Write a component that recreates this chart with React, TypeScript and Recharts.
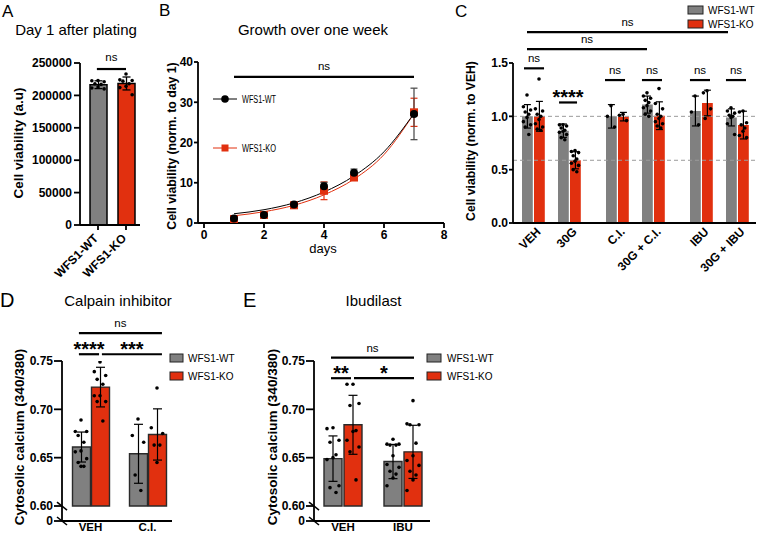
import {
  ComposedChart,
  Bar,
  Cell,
  ErrorBar,
  Scatter,
  Line,
  XAxis,
  YAxis,
  ReferenceLine,
} from "recharts"

const FONT = "'Liberation Sans', Arial, Helvetica, sans-serif"
const GRAY = "#808080"
const RED = "#e1300f"
const W = 757
const H = 535

// ---- A: day 1 after plating
const A_GROUPS = ["WFS1-WT", "WFS1-KO"]
const A_MEAN = [216500, 218400]
const A_SD = [6000, 10000]
const A_WT_DOTS = [223000, 222500, 221000, 218000, 217000, 213000, 211500, 210000]
const A_KO_DOTS = [233000, 224000, 223000, 222000, 218000, 214000, 212000, 201000]
const A_TICKS = [0, 50000, 100000, 150000, 200000, 250000]

// ---- B: growth over one week
const B_DAYS = [1, 2, 3, 4, 5, 7]
const B_WT = [1.1, 2.0, 4.6, 9.1, 12.5, 27.1]
const B_WT_ERR = [0.3, 0.3, 0.4, 1.0, 0.9, 6.4]
const B_KO = [1.0, 2.0, 4.4, 8.0, 11.3, 27.5]
const B_KO_ERR = [0.3, 0.3, 0.4, 2.2, 0.5, 3.5]
const FIT_DAYS = [1, 2, 3, 4, 5, 6, 7]
const B_WT_FIT = [2.3, 3.3, 5.0, 7.7, 11.7, 17.7, 27.2]
const B_KO_FIT = [1.8, 2.8, 4.4, 7.0, 10.9, 17.0, 27.2]
const B_XTICKS = [0, 2, 4, 6, 8]
const B_YTICKS = [0, 10, 20, 30, 40]

// ---- C: viability, normalised to VEH
const C_GROUPS = ["VEH", "30G", "C.I.", "30G + C.I.", "IBU", "30G + IBU"]
const C_WT_MEAN = [1.0, 0.865, 1.0, 1.11, 1.05, 0.99]
const C_KO_MEAN = [1.0, 0.588, 0.997, 1.006, 1.125, 0.918]
const C_WT_SD = [0.11, 0.063, 0.11, 0.08, 0.14, 0.08]
const C_KO_SD = [0.14, 0.08, 0.04, 0.13, 0.12, 0.13]
const C_WT_DOTS = [
  [1.2, 1.09, 1.06, 1.04, 1.02, 0.99, 0.95, 0.92, 0.9, 0.83],
  [0.92, 0.92, 0.91, 0.89, 0.87, 0.86, 0.85, 0.83, 0.8, 0.78],
  [1.1, 1.0, 0.9],
  [1.22, 1.19, 1.17, 1.15, 1.13, 1.1, 1.08, 1.05, 1.02, 1.0],
  [1.19, 1.04, 0.92],
  [1.08, 1.05, 1.03, 1.01, 1.0, 0.99, 0.93, 0.83],
]
const C_KO_DOTS = [
  [1.35, 1.07, 1.05, 1.02, 1.0, 0.97, 0.93, 0.9, 0.88, 0.87],
  [0.68, 0.67, 0.66, 0.63, 0.6, 0.58, 0.56, 0.54, 0.5, 0.48],
  [1.02, 1.01, 0.96],
  [1.26, 1.12, 1.07, 1.02, 1.0, 0.98, 0.95, 0.93, 0.91, 0.89],
  [1.24, 1.22, 1.07, 0.98],
  [1.05, 1.04, 0.94, 0.92, 0.89, 0.86, 0.82, 0.8],
]
const C_TICKS = [0, 0.5, 1, 1.5]

// ---- D: calpain inhibitor
const D_GROUPS = ["VEH", "C.I."]
const D_WT_MEAN = [0.661, 0.654]
const D_KO_MEAN = [0.723, 0.674]
const D_WT_SD = [0.0155, 0.0305]
const D_KO_SD = [0.0205, 0.0265]
const D_WT_DOTS = [
  [0.689, 0.677, 0.677, 0.673, 0.666, 0.657, 0.656, 0.649, 0.645, 0.641, 0.641],
  [0.69, 0.673, 0.666, 0.632, 0.616],
]
const D_KO_DOTS = [
  [0.749, 0.739, 0.735, 0.731, 0.726, 0.714, 0.714, 0.708, 0.708, 0.688],
  [0.722, 0.681, 0.675, 0.663, 0.663, 0.645],
]

// ---- E: ibudilast
const E_GROUPS = ["VEH", "IBU"]
const E_WT_MEAN = [0.649, 0.646]
const E_KO_MEAN = [0.684, 0.656]
const E_WT_SD = [0.0235, 0.0177]
const E_KO_SD = [0.0305, 0.0275]
const E_WT_DOTS = [
  [0.681, 0.68, 0.668, 0.666, 0.653, 0.65, 0.648, 0.621, 0.619, 0.614],
  [0.669, 0.664, 0.664, 0.663, 0.663, 0.652, 0.643, 0.64, 0.636, 0.633, 0.629, 0.621],
]
const E_KO_DOTS = [
  [0.726, 0.726, 0.706, 0.704, 0.678, 0.677, 0.668, 0.661, 0.656, 0.627],
  [0.709, 0.685, 0.684, 0.684, 0.665, 0.652, 0.647, 0.642, 0.636, 0.632, 0.627, 0.616],
]
const CA_TICKS = [0.6, 0.65, 0.7, 0.75]

// layout: slot index of each WT bar (KO sits in the next slot)
const C_SLOTS = [0, 3, 7, 10, 14, 17]
const C_NSLOT = 19
const DE_SLOTS = [0, 3]
const DE_NSLOT = 5
// broken y axis in D/E: 0.60 sits 15px above the zero line
const BREAK = 0.6
const ZERO = 0.6 - 15 / 966.7

// significance brackets (x in slot units, y in data units)
const A_BRACKETS = [{ x1: 0.46, x2: 1.5, y: 240700, text: "ns" }]
const B_BRACKETS = [{ x1: 1, x2: 7, y: 36.3, text: "ns" }]
const C_BRACKETS = [
  { x1: 0.5, x2: 17.25, y: 1.79, text: "ns" },
  { x1: 0.5, x2: 10.5, y: 1.63, text: "ns" },
  { x1: 0.25, x2: 1.92, y: 1.45, text: "ns" },
  { x1: 3.17, x2: 4.67, y: 1.13, text: "****" },
  { x1: 7.0, x2: 8.67, y: 1.34, text: "ns" },
  { x1: 10.08, x2: 11.75, y: 1.34, text: "ns" },
  { x1: 14.08, x2: 15.75, y: 1.34, text: "ns" },
  { x1: 17.08, x2: 18.75, y: 1.34, text: "ns" },
]
const D_BRACKETS = [
  { x1: 0.39, x2: 4.76, y: 0.7788, text: "ns" },
  { x1: 0.39, x2: 1.45, y: 0.757, text: "****" },
  { x1: 1.6, x2: 4.76, y: 0.757, text: "***" },
]
const E_BRACKETS = [
  { x1: 0.4, x2: 4.55, y: 0.7535, text: "ns" },
  { x1: 0.4, x2: 1.4, y: 0.7322, text: "**" },
  { x1: 1.55, x2: 4.55, y: 0.7322, text: "*" },
]

const axisStroke = { stroke: "#000", strokeWidth: 1.8 }
const tickFont = { fontSize: 12, fontWeight: 700, fill: "#000", fontFamily: FONT }

const JIT = [0, -1, 1, -0.5, 0.5]
function spread(vals: number[], center: number, half: number) {
  return vals.map((v, i) => ({ x: center + JIT[i % JIT.length] * half, y: v }))
}

function buildRows(
  nSlot: number,
  slots: number[],
  wtMean: number[],
  koMean: number[],
  wtSd: number[],
  koSd: number[],
  base?: number
) {
  const rows: any[] = Array.from({ length: nSlot }, (_, i) => ({ slot: "s" + i }))
  slots.forEach((s, g) => {
    rows[s] = { slot: "s" + s, y: base == null ? wtMean[g] : [base, wtMean[g]], sd: wtSd[g], fill: GRAY }
    rows[s + 1] = { slot: "s" + (s + 1), y: base == null ? koMean[g] : [base, koMean[g]], sd: koSd[g], fill: RED }
  })
  return rows
}

function buildDots(slots: number[], wt: number[][], ko: number[][], half: number) {
  return slots.flatMap((s, g) => [...spread(wt[g], s + 0.5, half), ...spread(ko[g], s + 1.5, half)])
}

const Dot = (p: any) => <circle cx={p.cx} cy={p.cy} r={1.8} fill="#000" />

function brackets(list: { x1: number; x2: number; y: number; text: string }[], axisId: any, nsOffset = 6.5) {
  return list.map((b, i) => {
    const star = b.text.includes("*")
    return (
      <ReferenceLine
        key={"br" + i}
        xAxisId={axisId}
        ifOverflow="visible"
        stroke="#000"
        strokeWidth={2.2}
        segment={[
          { x: b.x1, y: b.y },
          { x: b.x2, y: b.y },
        ]}
        label={{
          value: b.text,
          position: "top",
          offset: star ? -1.5 : nsOffset,
          fill: "#000",
          fontFamily: FONT,
          fontSize: star ? 20 : 11.5,
          fontWeight: star ? 700 : 400,
        }}
      />
    )
  })
}

function RotTick({ x, y, dx, dy, label }: any) {
  const px = x + dx
  const py = y + dy
  return (
    <text
      x={px}
      y={py}
      transform={`rotate(-45 ${px} ${py})`}
      textAnchor="end"
      fontSize={12}
      fontWeight={700}
      fontFamily={FONT}
      fill="#000"
    >
      {label}
    </text>
  )
}

function BreakTick({ x, y, payload }: any) {
  const v = payload.value
  const isZero = v < BREAK - 1e-6
  const isBreak = isZero || Math.abs(v - BREAK) < 1e-6
  const ax = x + 9
  return (
    <g>
      <text x={x} y={y} dy="0.35em" textAnchor="end" {...tickFont}>
        {isZero ? "0" : v.toFixed(2)}
      </text>
      {isBreak && <line x1={ax - 5} y1={y - 4} x2={ax + 5} y2={y + 4} stroke="#000" strokeWidth={1.6} />}
    </g>
  )
}

function PanelA() {
  const rows = A_GROUPS.map((g, i) => ({ slot: g, y: A_MEAN[i], sd: A_SD[i], fill: i ? RED : GRAY }))
  const dots = [...spread(A_WT_DOTS, 0.5, 0.22), ...spread(A_KO_DOTS, 1.5, 0.22)]
  return (
    <ComposedChart width={W} height={H} data={rows} margin={{ top: 63, left: 20, right: 617, bottom: 270 }}>
      <XAxis
        xAxisId="cat"
        dataKey="slot"
        type="category"
        height={40}
        padding={{ left: 4, right: 0 }}
        axisLine={axisStroke}
        tickLine={axisStroke}
        tickSize={5}
        tickMargin={2}
        interval={0}
        tick={(p: any) => <RotTick x={p.x} y={p.y} dx={1} dy={7} label={p.payload.value} />}
      />
      <XAxis
        xAxisId="num"
        dataKey="x"
        type="number"
        domain={[0, 2]}
        hide
        height={0}
        padding={{ left: 4, right: 0 }}
        allowDataOverflow
      />
      <YAxis
        width={60}
        domain={[0, 250000]}
        ticks={A_TICKS}
        interval={0}
        allowDataOverflow
        axisLine={axisStroke}
        tickLine={axisStroke}
        tickSize={6}
        tickMargin={2}
        tick={tickFont}
      />
      <Bar xAxisId="cat" dataKey="y" barSize={17} stroke="#000" strokeWidth={1.5} isAnimationActive={false}>
        {rows.map((r, i) => (
          <Cell key={i} fill={r.fill} />
        ))}
        <ErrorBar dataKey="sd" width={4} stroke="#000" strokeWidth={1.3} direction="y" />
      </Bar>
      <Scatter xAxisId="num" data={dots} dataKey="y" shape={Dot} isAnimationActive={false} />
      {brackets(A_BRACKETS, "num", 8)}
    </ComposedChart>
  )
}

function PanelB() {
  const wt = B_DAYS.map((d, i) => ({ x: d, y: B_WT[i], e: B_WT_ERR[i] }))
  const ko = B_DAYS.map((d, i) => ({ x: d, y: B_KO[i], e: B_KO_ERR[i] }))
  const wtFit = FIT_DAYS.map((d, i) => ({ x: d, y: B_WT_FIT[i] }))
  const koFit = FIT_DAYS.map((d, i) => ({ x: d, y: B_KO_FIT[i] }))
  return (
    <ComposedChart width={W} height={H} margin={{ top: 62, left: 158, right: 313, bottom: 292 }}>
      <XAxis
        dataKey="x"
        type="number"
        domain={[0, 8]}
        ticks={B_XTICKS}
        interval={0}
        height={20}
        padding={{ left: 6, right: 0 }}
        axisLine={axisStroke}
        tickLine={axisStroke}
        tickSize={5}
        tickMargin={2}
        tick={tickFont}
        allowDataOverflow
      />
      <YAxis
        width={40}
        domain={[0, 40]}
        ticks={B_YTICKS}
        interval={0}
        allowDataOverflow
        axisLine={axisStroke}
        tickLine={axisStroke}
        tickSize={4}
        tickMargin={1}
        tick={tickFont}
      />
      <Line data={koFit} dataKey="y" type="monotone" stroke={RED} strokeWidth={1} dot={false} isAnimationActive={false} />
      <Line data={wtFit} dataKey="y" type="monotone" stroke="#000" strokeWidth={1} dot={false} isAnimationActive={false} />
      <Scatter
        data={ko}
        dataKey="y"
        isAnimationActive={false}
        shape={(p: any) => <rect x={p.cx - 4} y={p.cy - 4} width={8} height={8} fill={RED} />}
      >
        <ErrorBar dataKey="e" direction="y" width={3.5} stroke={RED} strokeWidth={1.2} />
      </Scatter>
      <Scatter
        data={wt}
        dataKey="y"
        isAnimationActive={false}
        shape={(p: any) => <circle cx={p.cx} cy={p.cy} r={4} fill="#000" />}
      >
        <ErrorBar dataKey="e" direction="y" width={3.5} stroke="#444" strokeWidth={1.2} />
      </Scatter>
      {brackets(B_BRACKETS, 0, 7)}
    </ComposedChart>
  )
}

function PanelC() {
  const rows = buildRows(C_NSLOT, C_SLOTS, C_WT_MEAN, C_KO_MEAN, C_WT_SD, C_KO_SD)
  const dots = buildDots(C_SLOTS, C_WT_DOTS, C_KO_DOTS, 0.3)
  const pad = { left: 8, right: 7 }
  return (
    <ComposedChart width={W} height={H} data={rows} margin={{ top: 63, left: 473, right: 1, bottom: 272 }}>
      <XAxis xAxisId="cat" dataKey="slot" type="category" hide height={0} padding={pad} />
      <XAxis
        xAxisId="num"
        dataKey="x"
        type="number"
        domain={[0, C_NSLOT]}
        allowDataOverflow
        padding={pad}
        height={40}
        ticks={C_SLOTS.map((s) => s + 1)}
        interval={0}
        axisLine={axisStroke}
        tickLine={false}
        tickSize={0}
        tickMargin={2}
        tick={(p: any) => (
          <RotTick x={p.x} y={p.y} dx={8.5} dy={7.5} label={C_GROUPS[C_SLOTS.indexOf(p.payload.value - 1)]} />
        )}
      />
      <YAxis
        width={40}
        domain={[0, 1.5]}
        ticks={C_TICKS}
        interval={0}
        allowDataOverflow
        axisLine={axisStroke}
        tickLine={axisStroke}
        tickSize={4}
        tickMargin={1}
        tick={tickFont}
        tickFormatter={(v: number) => v.toFixed(1)}
      />
      <ReferenceLine xAxisId="num" y={C_WT_MEAN[0]} stroke="#9a9a9a" strokeDasharray="4 3" strokeWidth={1} />
      <ReferenceLine xAxisId="num" y={C_KO_MEAN[1]} stroke="#9a9a9a" strokeDasharray="4 3" strokeWidth={1} />
      <Bar xAxisId="cat" dataKey="y" barSize={12} isAnimationActive={false}>
        {rows.map((r, i) => (
          <Cell key={i} fill={r.fill || "none"} />
        ))}
        <ErrorBar dataKey="sd" width={3.5} stroke="#000" strokeWidth={1.2} direction="y" />
      </Bar>
      <Scatter xAxisId="num" data={dots} dataKey="y" shape={Dot} isAnimationActive={false} />
      {brackets(C_BRACKETS, "num", 6.5)}
    </ComposedChart>
  )
}

function PanelCa({
  left,
  right,
  pad,
  groups,
  wtMean,
  koMean,
  wtSd,
  koSd,
  wtDots,
  koDots,
  marks,
}: any) {
  const rows = buildRows(DE_NSLOT, DE_SLOTS, wtMean, koMean, wtSd, koSd, BREAK)
  const dots = buildDots(DE_SLOTS, wtDots, koDots, 0.3)
  return (
    <ComposedChart width={W} height={H} data={rows} margin={{ top: 361, left, right, bottom: 0 }}>
      <XAxis xAxisId="cat" dataKey="slot" type="category" hide height={0} padding={pad} />
      <XAxis
        xAxisId="num"
        dataKey="x"
        type="number"
        domain={[0, DE_NSLOT]}
        allowDataOverflow
        padding={pad}
        height={14}
        ticks={DE_SLOTS.map((s) => s + 1)}
        interval={0}
        axisLine={axisStroke}
        tickLine={false}
        tickSize={0}
        tickMargin={2}
        tick={{ ...tickFont, fontSize: 11.5 }}
        tickFormatter={(v: number) => groups[DE_SLOTS.indexOf(v - 1)]}
      />
      <YAxis
        width={50}
        domain={[ZERO, 0.75]}
        ticks={[ZERO, ...CA_TICKS]}
        interval={0}
        allowDataOverflow
        axisLine={axisStroke}
        tickLine={axisStroke}
        tickSize={8}
        tickMargin={1}
        tick={(p: any) => <BreakTick x={p.x} y={p.y} payload={p.payload} />}
      />
      <Bar xAxisId="cat" dataKey="y" barSize={18} stroke="#2a2a2a" strokeWidth={1.4} isAnimationActive={false}>
        {rows.map((r, i) => (
          <Cell key={i} fill={r.fill || "none"} />
        ))}
        <ErrorBar dataKey="sd" width={4.5} stroke="#000" strokeWidth={1.2} direction="y" />
      </Bar>
      <Scatter xAxisId="num" data={dots} dataKey="y" shape={Dot} isAnimationActive={false} />
      {brackets(marks, "num", 6)}
    </ComposedChart>
  )
}

function VLabel({ x, y, size, children }: any) {
  return (
    <text
      x={x}
      y={y}
      transform={`rotate(-90 ${x} ${y})`}
      textAnchor="middle"
      fontSize={size}
      fontWeight={700}
      fontFamily={FONT}
      fill="#000"
    >
      {children}
    </text>
  )
}

function LegendBoxes({ x, y1, y2, w, tx }: any) {
  return (
    <g fontFamily={FONT} fontSize={10} fill="#000">
      <rect x={x} y={y1} width={w} height={8} fill={GRAY} stroke="#222" strokeWidth={1} />
      <text x={tx} y={y1 + 8}>WFS1-WT</text>
      <rect x={x} y={y2} width={w} height={8} fill={RED} stroke="#222" strokeWidth={1} />
      <text x={tx} y={y2 + 8}>WFS1-KO</text>
    </g>
  )
}

function Overlay() {
  const t = { fontFamily: FONT, fill: "#000" }
  return (
    <svg width={W} height={H} style={{ position: "absolute", left: 0, top: 0, pointerEvents: "none" }}>
      <text x={2} y={17} fontSize={17} {...t}>A</text>
      <text x={159} y={16} fontSize={17} {...t}>B</text>
      <text x={455} y={17} fontSize={17} {...t}>C</text>
      <text x={0} y={307} fontSize={20} {...t}>D</text>
      <text x={243} y={307} fontSize={20} {...t}>E</text>

      <text x={76} y={35} fontSize={15} textAnchor="middle" {...t}>Day 1 after plating</text>
      <text x={313} y={35} fontSize={15} textAnchor="middle" {...t}>Growth over one week</text>
      <text x={118} y={306} fontSize={15} textAnchor="middle" {...t}>Calpain inhibitor</text>
      <text x={373.5} y={306} fontSize={15} textAnchor="middle" {...t}>Ibudilast</text>
      <text x={323} y={253} fontSize={13} textAnchor="middle" {...t}>days</text>

      <VLabel x={23} y={143} size={13.5}>Cell viability (a.u)</VLabel>
      <VLabel x={175.5} y={146} size={12.3}>Cell viability (norm. to day 1)</VLabel>
      <VLabel x={475} y={141} size={12.2}>Cell viability (norm. to VEH)</VLabel>
      <VLabel x={23.5} y={437} size={13.5}>Cytosolic calcium (340/380)</VLabel>
      <VLabel x={277} y={437} size={13.5}>Cytosolic calcium (340/380)</VLabel>

      {/* B legend */}
      <line x1={213} y1={99} x2={237} y2={99} stroke="#000" strokeWidth={1} />
      <circle cx={225} cy={99} r={3.8} fill="#000" />
      <text x={242} y={102.5} fontSize={10} textLength={34} lengthAdjust="spacingAndGlyphs" {...t}>WFS1-WT</text>
      <line x1={213} y1={148} x2={237} y2={148} stroke={RED} strokeWidth={1} />
      <rect x={221.5} y={144.5} width={7} height={7} fill={RED} />
      <text x={242} y={151.5} fontSize={10} textLength={34} lengthAdjust="spacingAndGlyphs" {...t}>WFS1-KO</text>

      <LegendBoxes x={688} y1={6} y2={20} w={15} tx={708} />
      <LegendBoxes x={170} y1={354} y2={372} w={13} tx={188} />
      <LegendBoxes x={427} y1={354} y2={372} w={14} tx={447} />
    </svg>
  )
}

export default function App() {
  return (
    <div style={{ position: "absolute", left: 0, top: 0, width: W, height: H, background: "#fff", overflow: "hidden" }}>
      <div style={{ position: "absolute", left: 0, top: 0 }}>
        <PanelA />
      </div>
      <div style={{ position: "absolute", left: 0, top: 0 }}>
        <PanelB />
      </div>
      <div style={{ position: "absolute", left: 0, top: 0 }}>
        <PanelC />
      </div>
      <div style={{ position: "absolute", left: 0, top: 0 }}>
        <PanelCa
          left={12}
          right={585}
          pad={{ left: 9.5, right: 5.5 }}
          groups={D_GROUPS}
          wtMean={D_WT_MEAN}
          koMean={D_KO_MEAN}
          wtSd={D_WT_SD}
          koSd={D_KO_SD}
          wtDots={D_WT_DOTS}
          koDots={D_KO_DOTS}
          marks={D_BRACKETS}
        />
      </div>
      <div style={{ position: "absolute", left: 0, top: 0 }}>
        <PanelCa
          left={264}
          right={327}
          pad={{ left: 9, right: 7 }}
          groups={E_GROUPS}
          wtMean={E_WT_MEAN}
          koMean={E_KO_MEAN}
          wtSd={E_WT_SD}
          koSd={E_KO_SD}
          wtDots={E_WT_DOTS}
          koDots={E_KO_DOTS}
          marks={E_BRACKETS}
        />
      </div>
      <Overlay />
    </div>
  )
}
